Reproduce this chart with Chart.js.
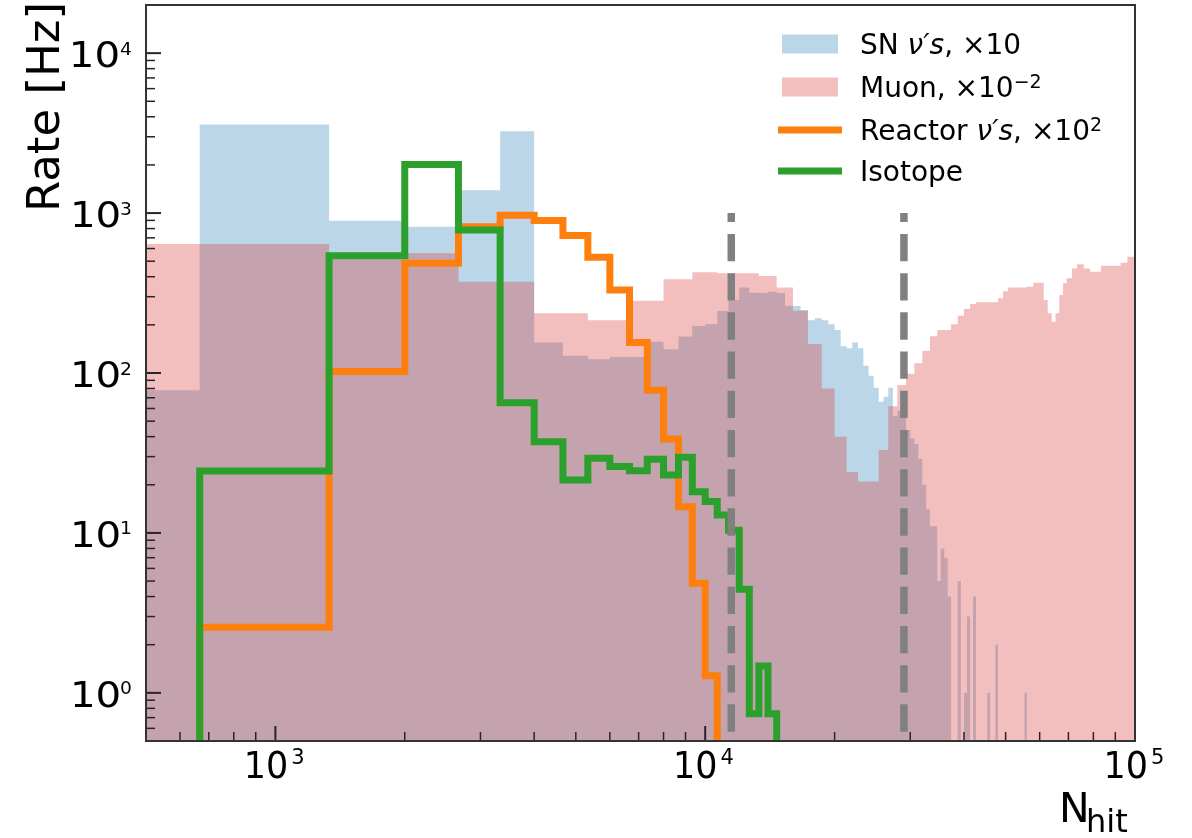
<!DOCTYPE html>
<html>
<head>
<meta charset="utf-8">
<title>Rate vs Nhit</title>
<script src="https://cdn.jsdelivr.net/npm/chart.js@4.4.1/dist/chart.umd.min.js"></script>
<style>
  html, body { margin: 0; padding: 0; background: #fff; }
  canvas { display: block; }
</style>
</head>
<body>
<canvas id="rate_chart" width="1192" height="838"></canvas>
<script>
// 150 linear bins over 0 - 1e5 hits
const N_BINS = 150
const BIN_WIDTH = 1e5 / N_BINS

// rates per bin [Hz]; bins past the end of a list are empty
const sn_rate = [
    78, 3580, 896, 821, 1390, 3250, 155, 128, 122, 126,
    126, 157, 141, 169, 197, 202, 244, 286, 343, 318,
    316, 322, 316, 263, 262, 248, 214, 220, 214, 202,
    186, 147, 143, 155, 143, 111, 96, 81, 66, 71,
    81, 54, 58, 55, 44, 39, 36, 29, 20, 14,
    11, 11, 5, 8, 7, 4, 0, 0, 5, 0,
    1, 3, 0, 4, 0, 0, 0, 0, 1, 0,
    0, 2, 0, 0, 0, 0, 0, 0, 0, 0,
    0, 0, 0, 1
]
const muon_rate = [
    640, 640, 514, 560, 372, 372, 236, 236, 214, 214,
    283, 283, 385, 385, 426, 426, 420, 420, 420, 420,
    404, 404, 343, 343, 245, 245, 152, 152, 80, 80,
    40, 40, 24, 24, 21, 21, 21, 21, 33, 33,
    62, 62, 84, 84, 99, 99, 115, 115, 138, 138,
    170, 170, 186, 186, 186, 186, 202, 202, 228, 228,
    251, 251, 270, 270, 277, 277, 277, 277, 277, 277,
    277, 277, 293, 293, 325, 325, 343, 343, 343, 343,
    343, 343, 343, 343, 346, 346, 346, 367, 367, 367,
    367, 367, 286, 286, 236, 236, 209, 209, 236, 236,
    307, 307, 364, 364, 391, 391, 391, 451, 451, 451,
    478, 478, 478, 478, 451, 451, 451, 451, 430, 430,
    430, 430, 430, 430, 430, 469, 469, 469, 469, 469,
    469, 469, 469, 469, 469, 469, 469, 469, 469, 489,
    489, 489, 489, 489, 533, 533, 533, 533, 533, 533
]
const reactor_rate = [0, 2.57, 102, 485, 820, 968, 900, 723, 529, 330, 155, 78, 38.7, 14.6, 4.85, 1.28]
const isotope_rate = [0, 24.4, 541, 2015, 783, 65.2, 37.2, 21.4, 29.3, 26.0, 24.5, 28.9, 23.0, 29.7, 18.1, 15.7, 12.96, 10.4, 4.45, 0.74, 1.47, 0.74]

// Nhit cut positions and how high their markers reach
const cut_nhit = [11500, 29000]
const cut_top = 1000

const x_tick_exp = [3, 4, 5]
const y_tick_exp = [0, 1, 2, 3, 4]

const colors = ['rgba(31,119,180,0.3)', 'rgba(214,39,40,0.3)', '#ff7f0e', '#2ca02c']

// legend text pieces: n = normal, i = italic, s = superscript
const legend_labels = [
    [['SN ', 'n'], ['\u03bd\u2032s', 'i'], [', \u00d710', 'n']],
    [['Muon, \u00d710', 'n'], ['\u22122', 's']],
    [['Reactor ', 'n'], ['\u03bd\u2032s', 'i'], [', \u00d710', 'n'], ['2', 's']],
    [['Isotope', 'n']]
]

// empty bins go far below the axis so the outline drops off the plot
const FLOOR = 1e-3

function hist_points(values){
    const pts = []
    for (let i = 0; i < N_BINS; i++) {
        const v = values[i] || 0
        pts.push({x: Math.max(i * BIN_WIDTH, 1), y: v > 0 ? v : FLOOR})
    }
    pts.push({x: N_BINS * BIN_WIDTH, y: FLOOR})
    return pts
}

const FONT = '"DejaVu Sans"'

function put_text(ctx, text, size, ink_left, baseline, sx, bearing){
    ctx.save()
    ctx.font = size + 'px ' + FONT
    ctx.translate(ink_left, baseline)
    ctx.scale(sx, 1)
    ctx.fillText(text, bearing, 0)
    ctx.restore()
}

function ink(ctx, text, size){
    ctx.font = size + 'px ' + FONT
    const m = ctx.measureText(text)
    return {left: m.actualBoundingBoxLeft, w: m.actualBoundingBoxLeft + m.actualBoundingBoxRight}
}

// "10" with a raised exponent
function draw_power(ctx, exp, st, anchor, baseline, align){
    const b = ink(ctx, '10', st.size)
    const e = ink(ctx, exp, st.sup)
    const bw = b.w * st.sx, ew = e.w * st.supSx
    const total = bw + st.gap + ew
    const x0 = align === 'center' ? anchor - total / 2 : anchor - total
    put_text(ctx, '10', st.size, x0, baseline, st.sx, b.left)
    put_text(ctx, exp, st.sup, x0 + bw + st.gap, baseline - st.rise, st.supSx, e.left)
}

const x_label_style = {size: 38, sx: 0.92, sup: 21, supSx: 1.0, gap: 6, rise: 14}
const y_label_style = {size: 36, sx: 1.12, sup: 17, supSx: 1.1, gap: 2, rise: 12.5}

const axesPlugin = {
    id: 'axes_frame',
    afterDraw(chart){
        const ctx = chart.ctx
        const a = chart.chartArea
        const x = chart.scales.x, y = chart.scales.y
        ctx.save()
        ctx.textAlign = 'left'
        ctx.textBaseline = 'alphabetic'

        // inward ticks, major on decades
        ctx.strokeStyle = '#262626'
        for (let k = -1; k <= 4; k++) {
            for (let m = 1; m <= 9; m++) {
                const py = y.getPixelForValue(m * Math.pow(10, k))
                if (py <= a.top + 1 || py >= a.bottom - 1) continue
                ctx.lineWidth = m === 1 ? 2 : 1.5
                ctx.beginPath()
                ctx.moveTo(a.left, py)
                ctx.lineTo(a.left + (m === 1 ? 15 : 9), py)
                ctx.stroke()
            }
        }
        for (let k = 2; k <= 4; k++) {
            for (let m = 1; m <= 9; m++) {
                const px = x.getPixelForValue(m * Math.pow(10, k))
                if (px <= a.left + 1 || px >= a.right - 1) continue
                ctx.lineWidth = m === 1 ? 2 : 1.5
                ctx.beginPath()
                ctx.moveTo(px, a.bottom)
                ctx.lineTo(px, a.bottom - (m === 1 ? 15 : 9))
                ctx.stroke()
            }
        }

        ctx.lineWidth = 2
        ctx.strokeStyle = '#333'
        ctx.strokeRect(a.left, a.top, a.right - a.left, a.bottom - a.top)

        // tick labels
        ctx.fillStyle = '#000'
        x_tick_exp.forEach(k => {
            draw_power(ctx, String(k), x_label_style, x.getPixelForValue(Math.pow(10, k)), a.bottom + 37, 'center')
        })
        y_tick_exp.forEach(k => {
            const py = y.getPixelForValue(Math.pow(10, k))
            draw_power(ctx, String(k), y_label_style, a.left - 15, py + 14, 'right')
        })

        // axis titles
        const n = ink(ctx, 'N', 41)
        put_text(ctx, 'N', 41, 1063, 822, 1, n.left)
        const h = ink(ctx, 'hit', 32)
        put_text(ctx, 'hit', 32, 1088, 832, 1, h.left)

        ctx.save()
        ctx.translate(59, 107)
        ctx.rotate(-Math.PI / 2)
        ctx.textAlign = 'center'
        ctx.font = '45px ' + FONT
        ctx.fillText('Rate [Hz]', 0, 0)
        ctx.restore()

        // legend
        const rows = [44, 87, 130, 171]
        legend_labels.forEach((pieces, i) => {
            const cy = rows[i]
            if (i < 2) {
                ctx.fillStyle = colors[i]
                ctx.fillRect(782, cy - 9.5, 56, 19)
            } else {
                ctx.strokeStyle = colors[i]
                ctx.lineWidth = 7
                ctx.beginPath()
                ctx.moveTo(778, cy)
                ctx.lineTo(842, cy)
                ctx.stroke()
            }
            ctx.fillStyle = '#000'
            let tx = 860
            const base = cy + 10
            pieces.forEach(([text, kind]) => {
                let dy = 0
                if (kind === 'i') ctx.font = 'italic 28px ' + FONT
                else if (kind === 's') { ctx.font = '19px ' + FONT; dy = -9 }
                else ctx.font = '28px ' + FONT
                ctx.fillText(text, tx, base + dy)
                tx += ctx.measureText(text).width
            })
        })
        ctx.restore()
    }
}

const cut_sets = cut_nhit.map(c => ({
    label: 'cut',
    data: [{x: c, y: cut_top}, {x: c, y: FLOOR}],
    borderColor: '#808080',
    borderWidth: 7.5,
    borderDash: [27.3, 11.9],
    borderDashOffset: 18.3,
    borderCapStyle: 'butt',
    fill: false,
    clip: 0
}))

const rateChart = new Chart(document.getElementById('rate_chart').getContext('2d'), {
    type: 'line',
    data: {
        datasets: [
            ...cut_sets,
            {
                label: 'Isotope',
                data: hist_points(isotope_rate),
                stepped: true,
                borderColor: colors[3],
                borderWidth: 7,
                borderJoinStyle: 'miter',
                fill: false,
                clip: 0
            },
            {
                label: 'Reactor \u03bd\u2032s, \u00d710\u00b2',
                data: hist_points(reactor_rate),
                stepped: true,
                borderColor: colors[2],
                borderWidth: 7,
                borderJoinStyle: 'miter',
                fill: false,
                clip: 0
            },
            {
                label: 'Muon, \u00d710\u207b\u00b2',
                data: hist_points(muon_rate),
                stepped: true,
                borderWidth: 0,
                borderColor: 'rgba(0,0,0,0)',
                backgroundColor: colors[1],
                fill: 'start',
                clip: 0
            },
            {
                label: 'SN \u03bd\u2032s, \u00d710',
                data: hist_points(sn_rate),
                stepped: true,
                borderWidth: 0,
                borderColor: 'rgba(0,0,0,0)',
                backgroundColor: colors[0],
                fill: 'start',
                clip: 0
            }
        ]
    },
    options: {
        responsive: false,
        animation: false,
        devicePixelRatio: 1,
        layout: {padding: {left: 146, right: 57, top: 5, bottom: 97}},
        elements: {point: {radius: 0, hoverRadius: 0}},
        plugins: {
            legend: {display: false},
            tooltip: {enabled: false}
        },
        scales: {
            x: {type: 'logarithmic', min: 500, max: 1e5, display: false},
            y: {type: 'logarithmic', min: 0.5, max: 2e4, display: false}
        }
    },
    plugins: [axesPlugin]
})
</script>
</body>
</html>
